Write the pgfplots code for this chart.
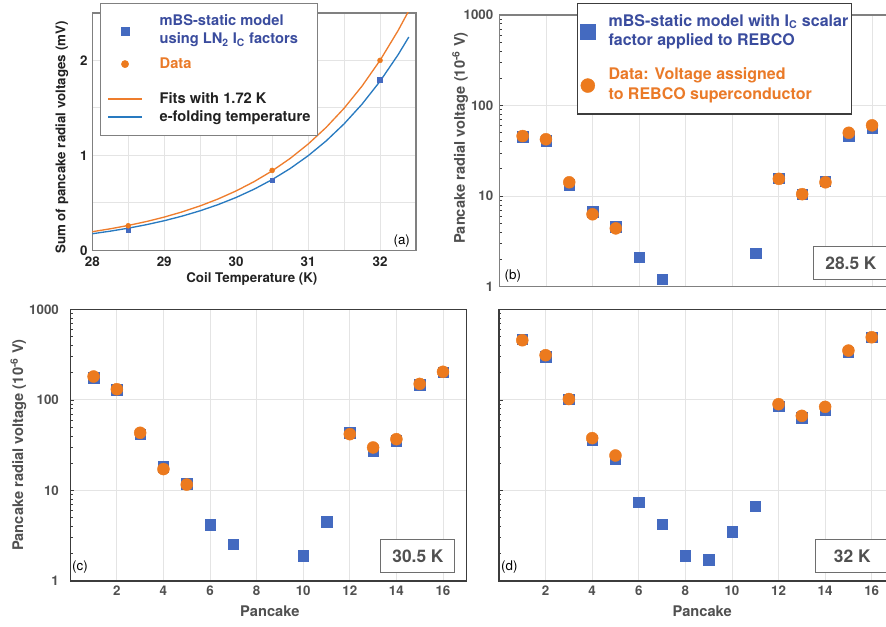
\documentclass[border=0pt]{standalone}
\usepackage{fontspec}
\setmainfont{TeX Gyre Heros}
\usepackage{pgfplots}
\pgfplotsset{compat=1.18}

\definecolor{sqblue}{RGB}{68,106,192}
\definecolor{dotorange}{RGB}{236,122,30}
\definecolor{legblue}{RGB}{58,76,158}
\definecolor{legorange}{RGB}{234,122,40}
\definecolor{lineorange}{RGB}{238,125,45}
\definecolor{lineblue}{RGB}{40,122,192}
\definecolor{txtdark}{RGB}{34,34,34}
\definecolor{txtgray}{RGB}{80,80,80}
\definecolor{framegray}{RGB}{128,128,128}
\definecolor{framedark}{RGB}{60,60,60}
\definecolor{gridgray}{RGB}{228,228,228}
\definecolor{boxgray}{RGB}{110,110,110}

\pgfplotsset{
  wideimg/.style={legend image code/.code={\draw[mark repeat=2,mark phase=2,##1] plot coordinates {(0pt,0pt) (12.5pt,0pt) (25pt,0pt)};}},
  sqstyle/.style={only marks, mark=square*, mark size=3.9pt, color=sqblue, mark options={fill=sqblue, draw=sqblue, line width=0.3pt}},
  dotstyle/.style={only marks, mark=*, mark size=4.5pt, color=dotorange, mark options={fill=dotorange, draw=dotorange, line width=0.3pt}},
  panel/.style={
    anchor=south west, scale only axis, width=297pt, height=203.8pt,
    xmin=0, xmax=17, ymin=1, ymax=1000,
    xtick={2,4,...,16},
    ytick={1,10,100,1000},
    minor ytick={2,3,...,9,20,30,...,90,200,300,...,900},
    grid=major, major grid style={gridgray, line width=0.6pt},
    ytick pos=left, xtick pos=bottom, tick align=inside,
    major tick length=3pt, minor tick length=1.8pt,
    tick style={framedark, line width=0.5pt},
    xtick style={draw=none},
    /pgf/number format/assume math mode=true,
    tick label style={font=\bfseries\fontsize{10}{12}\selectfont, text=txtgray},
    label style={font=\bfseries\fontsize{11}{13}\selectfont, text=txtgray},
  },
}

\begin{document}
\begin{tikzpicture}
\useasboundingbox (0,0) rectangle (664.5pt,469.5pt);
\begin{scope}
\clip (0,0) rectangle (664.5pt,469.5pt);

% ---------------- (a) ----------------
\begin{axis}[
  at={(69.2pt,281.8pt)}, anchor=south west, scale only axis,
  width=242.8pt, height=178pt,
  xmin=28, xmax=32.5, ymin=0, ymax=2.5,
  xtick={28,29,30,31,32}, ytick={0,1,2},
  minor xtick={28.5,29.5,30.5,31.5}, minor ytick={0.5,1.5},
  grid=both, major grid style={gridgray, line width=0.6pt}, minor grid style={gridgray, line width=0.6pt},
  major tick length=0pt, minor tick length=0pt,
  axis line style={framegray, line width=1pt},
  /pgf/number format/assume math mode=true,
  tick label style={font=\bfseries\fontsize{10}{12}\selectfont, text=txtdark},
  xticklabel style={yshift=-1.5pt},
  label style={font=\bfseries\fontsize{10}{12}\selectfont, text=txtdark},
  xlabel={Coil Temperature (K)},
  ylabel={Sum of pancake radial voltages (mV)},
  xlabel style={at={(axis description cs:0.493,-0.121)}, anchor=center},
  ylabel style={at={(axis description cs:-0.094,0.475)}, anchor=center},
  legend style={at={(0.024,1.042)}, anchor=north west, draw=framegray, line width=1pt, fill=white,
    inner xsep=5.25pt, inner ysep=7.1pt, row sep=0pt, column sep=13pt,
    nodes={inner sep=0pt, text depth=}, cells={anchor=west},
    font=\bfseries\fontsize{11}{13.5}\selectfont},
]
\addplot[lineorange, line width=1pt, forget plot] coordinates {
 (28,0.1955) (28.25,0.2261) (28.5,0.2614) (28.75,0.3023) (29,0.3496) (29.25,0.4043)
 (29.5,0.4675) (29.75,0.5407) (30,0.6252) (30.25,0.7231) (30.5,0.8362) (30.75,0.9670)
 (31,1.1182) (31.25,1.2932) (31.5,1.4955) (31.75,1.7295) (32,2.0) (32.25,2.3128) (32.4,2.5237)};
\addplot[lineblue, line width=1pt, forget plot] coordinates {
 (28,0.1740) (28.25,0.2012) (28.5,0.2326) (28.75,0.2691) (29,0.3111) (29.25,0.3598)
 (29.5,0.4161) (29.75,0.4812) (30,0.5564) (30.25,0.6435) (30.5,0.7442) (30.75,0.8606)
 (31,0.9952) (31.25,1.1510) (31.5,1.3310) (31.75,1.5392) (32,1.78) (32.25,2.0584) (32.4,2.2461)};
\addplot[sqstyle, mark size=1.8pt, wideimg, legend image post style={mark size=2.75pt}] coordinates {
 (28.5,0.216) (30.5,0.739) (32,1.795)};
\addlegendentry{\textcolor{legblue}{\begin{tabular}{@{}l@{}}mBS-static model\\using LN\textsubscript{2} I\textsubscript{C} factors\end{tabular}}}
\addplot[dotstyle, mark size=1.9pt, wideimg, legend image post style={mark size=2.75pt}] coordinates {
 (28.5,0.258) (30.5,0.841) (32,2.0)};
\addlegendentry{\textcolor{legorange}{\rule[-7.75pt]{0pt}{22.5pt}Data}}
\addlegendimage{empty legend}
\addlegendentry{\rule{0pt}{8.25pt}}
\addlegendimage{lineorange, line width=1pt, wideimg}
\addlegendentry{\textcolor{txtdark}{\rule[-3.25pt]{0pt}{13.5pt}Fits with 1.72 K}}
\addlegendimage{lineblue, line width=1pt, wideimg}
\addlegendentry{\textcolor{txtdark}{\rule[-3.25pt]{0pt}{13.5pt}e-folding temperature}}
\node[font=\fontsize{10}{12}\selectfont, text=black] at (axis description cs:0.956,0.040) {(a)};
\end{axis}

% ---------------- (b) ----------------
\begin{axis}[ymode=log, panel,
  at={(374.5pt,254.5pt)},
  xticklabels={},
  yticklabels={1,10,100,1000},
  axis line style={framegray, line width=1pt},
  yticklabel style={xshift=-1pt},
  ylabel={Pancake radial voltage (10\textsuperscript{-6} V)},
  ylabel style={at={(axis description cs:-0.0992,0.547)}, anchor=center},
  legend style={at={(0.1955,1.045)}, anchor=north west, draw=framedark, line width=1pt, fill=white,
    inner xsep=2.2pt, inner ysep=6.85pt, row sep=11.3pt, column sep=10pt,
    nodes={inner sep=0pt, text depth=}, cells={anchor=west},
    font=\bfseries\fontsize{12}{14.5}\selectfont},
]
\addplot[sqstyle, legend image post style={mark size=5.6pt}] coordinates {
 (1,45.3) (2,41) (3,13.3) (4,6.7) (5,4.6) (6,2.1) (7,1.2) (11,2.33) (12,15.7) (13,10.5) (14,14.7) (15,46) (16,56)};
\addlegendentry{\textcolor{legblue}{\begin{tabular}{@{}l@{}}mBS-static model with I\textsubscript{C} scalar\\factor applied to REBCO\end{tabular}}}
\addplot[dotstyle, legend image post style={mark size=5.25pt}] coordinates {
 (1,46) (2,42.4) (3,14.2) (4,6.3) (5,4.4) (12,15.5) (13,10.5) (14,14.2) (15,50) (16,60.4)};
\addlegendentry{\textcolor{legorange}{\begin{tabular}{@{}l@{}}Data: Voltage assigned\\to REBCO superconductor\end{tabular}}}
\node[font=\fontsize{10}{12}\selectfont, text=black] at (axis description cs:0.034,0.040) {(b)};
\node[draw=boxgray, line width=0.75pt, fill=white, minimum width=55.5pt, minimum height=25pt, inner sep=0pt,
  font=\bfseries\fontsize{13}{15}\selectfont, text=txtgray] at (axis description cs:0.888,0.086) {28.5 K};
\end{axis}

% ---------------- (c) ----------------
\begin{axis}[ymode=log, panel,
  at={(52.7pt,33.75pt)},
  xticklabels={2,4,6,8,10,12,14,16},
  yticklabels={1,10,100,1000},
  axis line style={framedark, line width=0.8pt},
  yticklabel style={xshift=-5pt},
  xlabel={Pancake},
  xlabel style={at={(axis description cs:0.504,-0.113)}, anchor=center},
  ylabel={Pancake radial voltage (10\textsuperscript{-6} V)},
  ylabel style={at={(axis description cs:-0.131,0.5)}, anchor=center},
]
\addplot[sqstyle] coordinates {
 (1,176) (2,130) (3,41.8) (4,18.2) (5,11.9) (6,4.2) (7,2.54) (10,1.90) (11,4.51) (12,43.6) (13,27.4) (14,35.3) (15,147.6) (16,202)};
\addplot[dotstyle] coordinates {
 (1,181) (2,131) (3,43.3) (4,17.2) (5,11.6) (12,41.8) (13,29.8) (14,36.8) (15,150) (16,204)};
\node[font=\fontsize{10}{12}\selectfont, text=black] at (axis description cs:0.0245,0.053) {(c)};
\node[draw=boxgray, line width=0.75pt, fill=white, minimum width=55.5pt, minimum height=25pt, inner sep=0pt,
  font=\bfseries\fontsize{13}{15}\selectfont, text=txtgray] at (axis description cs:0.878,0.091) {30.5 K};
\end{axis}

% ---------------- (d) ----------------
\begin{axis}[ymode=log, panel,
  at={(374.25pt,33.75pt)},
  xticklabels={2,4,6,8,10,12,14,16},
  yticklabels={},
  axis line style={framedark, line width=0.8pt},
  xlabel={Pancake},
  xlabel style={at={(axis description cs:0.513,-0.113)}, anchor=center},
]
\addplot[sqstyle] coordinates {
 (1,467) (2,298) (3,101) (4,35.9) (5,22.2) (6,7.4) (7,4.22) (8,1.90) (9,1.72) (10,3.50) (11,6.66) (12,85.1) (13,63.3) (14,78.2) (15,338) (16,491)};
\addplot[dotstyle] coordinates {
 (1,455) (2,311) (3,102) (4,37.8) (5,24.3) (12,89.6) (13,66.6) (14,83.7) (15,350) (16,491)};
\node[font=\fontsize{10}{12}\selectfont, text=black] at (axis description cs:0.026,0.053) {(d)};
\node[draw=boxgray, line width=0.75pt, fill=white, minimum width=55.5pt, minimum height=25pt, inner sep=0pt,
  font=\bfseries\fontsize{13}{15}\selectfont, text=txtgray] at (axis description cs:0.892,0.091) {32 K};
\end{axis}
\end{scope}
\end{tikzpicture}
\end{document}
